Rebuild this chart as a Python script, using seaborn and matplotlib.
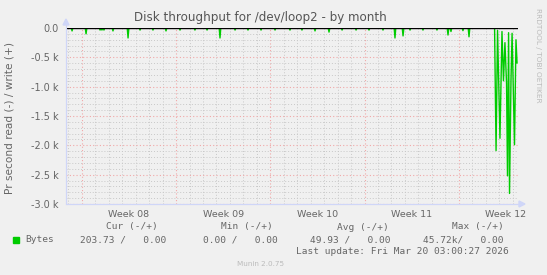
import numpy as np
import pandas as pd
import matplotlib
matplotlib.use("Agg")
import matplotlib.pyplot as plt
import seaborn as sns
from matplotlib.patches import Polygon

# ---------------- data (days since start of graph window, bytes/s) ----------------
# small daily read spikes (value is negative = read)
spike_day = [0.45, 1.49, 2.53, 2.67, 2.82, 3.49, 4.61, 5.50, 6.46, 7.43, 8.47, 9.58,
             10.48, 11.44, 12.56, 13.52, 14.49, 15.53, 16.64, 17.53, 18.50, 19.54,
             20.51, 21.55, 22.51, 23.55, 24.44, 25.04, 25.56, 26.52, 27.56, 28.38,
             28.60, 29.49, 29.94]
spike_val = [-50, -100, -35, -35, -35, -50, -170, -35, -35, -50, -35, -35,
             -35, -170, -35, -35, -35, -35, -35, -35, -50, -70,
             -35, -35, -35, -35, -170, -135, -35, -35, -35, -120,
             -60, -45, -150]
# final burst of heavy reads
burst_day = [31.84, 31.95, 32.06, 32.24, 32.39, 32.50, 32.61, 32.73, 32.80, 32.88,
             32.95, 33.06, 33.14, 33.32, 33.43, 33.51]
burst_val = [0, -2090, -40, -1880, -60, -900, -250, -950, -2520, -80,
             -2820, -880, -90, -1990, -200, -600]

x_span = 33.58
week_start = [1.18, 8.18, 15.18, 22.18, 29.18]
week_labels = ["Week 08", "Week 09", "Week 10", "Week 11", "Week 12"]
y_ticks = [0, -500, -1000, -1500, -2000, -2500, -3000]
y_tick_labels = ["0.0", "-0.5 k", "-1.0 k", "-1.5 k", "-2.0 k", "-2.5 k", "-3.0 k"]

legend_head = ["Cur (-/+)", "Min (-/+)", "Avg (-/+)", "Max (-/+)"]
legend_vals = ["203.73 /   0.00", "0.00 /   0.00", "49.93 /   0.00", "45.72k/   0.00"]
series_name = "Bytes"
last_update = "Last update: Fri Mar 20 03:00:27 2026"

# ---------------- build polyline ----------------
half = 0.06
xs, ys = [0.0], [0.0]
for d, v in zip(spike_day, spike_val):
    xs += [d - half, d, d + half]
    ys += [0, v, 0]
xs += burst_day
ys += burst_val
df = pd.DataFrame({"day": xs, "bytes": ys})

# ---------------- figure ----------------
W, H = 547, 275
BG = "#F0F0F0"
FONT = "#666666"
AXIS = "#CFD6F8"
sns.set_style("white")
plt.rcParams["font.family"] = ["DejaVu Sans"]

fig = plt.figure(figsize=(W / 100, H / 100), dpi=100, facecolor=BG)
L, R, T, B = 66, 518, 28, 204
ax = fig.add_axes([L / W, 1 - B / H, (R - L) / W, (B - T) / H])
ax.set_facecolor(BG)

ax.set_xlim(0, x_span)
ax.set_ylim(-3000, 0)

# grid
minor_x = [d for d in np.arange(week_start[0] - 7, x_span, 1.0)
           if d > 0 and all(abs(d - w) > 1e-6 for w in week_start)]
ax.set_xticks(week_start)
ax.set_xticks(minor_x, minor=True)
ax.set_yticks(y_ticks)
ax.set_yticklabels(y_tick_labels)
ax.set_yticks([v for v in range(-3000, 1, 100) if v % 500 != 0], minor=True)
ax.set_xticklabels([])
ax.grid(which="minor", color="#C8C8C8", linestyle=(0, (1, 2)), linewidth=0.7)
ax.grid(which="major", color="#F0A8A8", linestyle=(0, (1, 2)), linewidth=0.8)
ax.tick_params(axis="y", which="major", length=2.5, color="#F0A8A8", labelsize=7, labelcolor=FONT, pad=3)
ax.tick_params(axis="y", which="minor", length=2, color="#C8C8C8")
ax.tick_params(axis="x", which="major", length=2.5, color="#F0A8A8", direction="inout")
ax.tick_params(axis="x", which="minor", length=2, color="#C8C8C8", direction="inout")
for s in ["top", "right"]:
    ax.spines[s].set_visible(False)
ax.spines["left"].set_color(AXIS)
ax.spines["bottom"].set_color(AXIS)
ax.spines["left"].set_linewidth(0.8)
ax.spines["bottom"].set_linewidth(0.8)

sns.lineplot(data=df, x="day", y="bytes", ax=ax, color="#00CC00", linewidth=1.0,
             estimator=None, sort=False, legend=False, zorder=3)
ax.axhline(0, color="#000000", linewidth=1.0, zorder=4)
ax.set_xlabel("")
ax.set_ylabel("")

for w, lab in zip(week_start, week_labels):
    ax.text(w + 3.5, -0.035, lab, transform=ax.get_xaxis_transform(), ha="center", va="top",
            fontsize=6.8, color=FONT, clip_on=False)


def fx(x):
    return x / W


def fy(y):
    return 1 - y / H


# arrows
fig.add_artist(Polygon([[fx(L - 3), fy(25)], [fx(L + 3), fy(25)], [fx(L), fy(19)]],
                       closed=True, color=AXIS, transform=fig.transFigure))
fig.add_artist(Polygon([[fx(R + 1), fy(B - 3)], [fx(R + 1), fy(B + 3)], [fx(R + 7), fy(B)]],
                       closed=True, color=AXIS, transform=fig.transFigure))
fig.add_artist(plt.Line2D([fx(L), fx(L)], [fy(B), fy(25)], color=AXIS, lw=0.8, transform=fig.transFigure))
fig.add_artist(plt.Line2D([fx(L), fx(R + 1)], [fy(B), fy(B)], color=AXIS, lw=0.8, transform=fig.transFigure))

fig.text(fx(260.5), fy(17), "Disk throughput for /dev/loop2 - by month", ha="center", va="center",
         fontsize=8.6, color="#555555")
fig.text(fx(10), fy(118), "Pr second read (-) / write (+)", rotation=90, ha="center", va="center",
         fontsize=7.6, color=FONT)
fig.text(fx(538), fy(55), "RRDTOOL / TOBI OETIKER", rotation=270, ha="center", va="center",
         fontsize=5.3, color="#BBBBBB")

mono = "DejaVu Sans Mono"
fs = 6.8
head_x = [106, 221, 337, 452]
val_x = [80, 203, 310, 423]
for x, t in zip(head_x, legend_head):
    fig.text(fx(x), fy(227), t, family=mono, fontsize=fs, color=FONT, ha="left", va="center")
fig.add_artist(plt.Rectangle((fx(13), fy(243)), 6 / W, 6 / H, color="#00CC00", transform=fig.transFigure))
fig.text(fx(25), fy(240), series_name, family=mono, fontsize=fs, color=FONT, ha="left", va="center")
for x, t in zip(val_x, legend_vals):
    fig.text(fx(x), fy(240), t, family=mono, fontsize=fs, color=FONT, ha="left", va="center")
fig.text(fx(509), fy(252), last_update, family=mono, fontsize=fs, color=FONT, ha="right", va="center")
fig.text(fx(261), fy(264), "Munin 2.0.75", fontsize=5.2, color="#BBBBBB", ha="center", va="center")

fig.savefig("out.png", dpi=100, facecolor=BG)
